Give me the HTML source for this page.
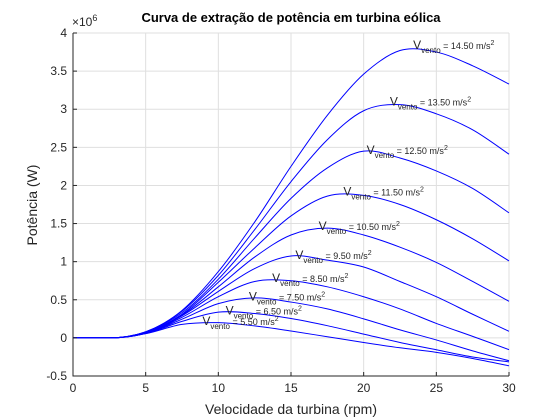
<!DOCTYPE html>
<html><head><meta charset="utf-8"><style>
body{margin:0;background:#fff}
svg{display:block;font-family:"Liberation Sans",Arial,sans-serif}
</style></head><body>
<svg id="chart" width="560" height="420" viewBox="0 0 560 420">
<rect width="560" height="420" fill="#fff"/>
<g id="grid"></g>
<g id="series"></g>
<g id="axes"></g>
<g id="labels"></g>
<text x="291" y="22" text-anchor="middle" font-size="13" font-weight="bold" fill="#000">Curva de extração de potência em turbina eólica</text>
<text x="291" y="414" text-anchor="middle" font-size="14" fill="#262626">Velocidade da turbina (rpm)</text>
<text transform="translate(37,205) rotate(-90)" text-anchor="middle" font-size="14" fill="#262626">Potência (W)</text>
<text x="72" y="26" font-size="12" fill="#262626">×10<tspan dy="-5" font-size="9">6</tspan></text>
</svg>
<script>
const rpm = [0,2.5,5,7.5,10,12.5,15,17.5,20,22.5,25,27.5,30];
const windSpeeds = [14.5,13.5,12.5,11.5,10.5,9.5,8.5,7.5,6.5,5.5];
const p145 = [0,0,0.08,0.36,0.87,1.52,2.25,2.92,3.46,3.77,3.75,3.57,3.33];
const p135 = [0,0,0.08,0.35,0.82,1.42,2.05,2.60,2.98,3.06,2.94,2.73,2.41];
const p125 = [0,0,0.08,0.33,0.77,1.31,1.83,2.23,2.45,2.36,2.19,1.96,1.64];
const p115 = [0,0,0.076,0.31,0.73,1.18,1.60,1.86,1.87,1.75,1.55,1.30,1.01];
const p105 = [0,0,0.07,0.30,0.67,1.06,1.35,1.44,1.35,1.19,0.99,0.74,0.48];
const p95 = [0,0,0.062,0.29,0.61,0.91,1.075,1.02,0.93,0.74,0.54,0.31,0.086];
const p85 = [0,0,0.06,0.27,0.54,0.74,0.75,0.67,0.54,0.38,0.19,0.02,-0.154];
const p75 = [0,0,0.06,0.245,0.45,0.525,0.47,0.38,0.25,0.105,-0.027,-0.17,-0.30];
const p65 = [0,0,0.057,0.217,0.338,0.32,0.254,0.16,0.05,-0.06,-0.155,-0.25,-0.314];
const p55 = [0,0,0.056,0.177,0.20,0.157,0.09,0.015,-0.06,-0.13,-0.19,-0.27,-0.366];
const allSeries = [p145,p135,p125,p115,p105,p95,p85,p75,p65,p55];
const labelRpm = [23.4,21.8,20.2,18.6,16.9,15.3,13.7,12.1,10.5,8.9];
const labelPower = [3.83,3.09,2.45,1.91,1.454,1.077,0.771,0.53,0.345,0.209];
const xTicks = [0,5,10,15,20,25,30];
const yTicks = [-0.5,0,0.5,1,1.5,2,2.5,3,3.5,4];
const yTickLabels = ["-0.5","0","0.5","1","1.5","2","2.5","3","3.5","4"];

const X0=73,X1=509,Y0=376,Y1=33,xMin=0,xMax=30,yMin=-0.5,yMax=4;
function sx(v){return X0+(v-xMin)/(xMax-xMin)*(X1-X0);}
function sy(v){return Y0-(v-yMin)/(yMax-yMin)*(Y0-Y1);}
const NS="http://www.w3.org/2000/svg";
function mk(tag,attrs,parent){const e=document.createElementNS(NS,tag);for(const k in attrs)e.setAttribute(k,attrs[k]);parent.appendChild(e);return e;}
const grid=document.getElementById('grid'),axes=document.getElementById('axes'),ser=document.getElementById('series'),lab=document.getElementById('labels');
xTicks.forEach((t,i)=>{
  const g=mk('line',{x1:sx(t),x2:sx(t),y1:Y1,y2:Y0,stroke:'#dfdfdf','stroke-width':1},grid);
  
  
  const tk=mk('line',{x1:sx(t),x2:sx(t),y1:Y0,y2:Y0-4,stroke:'#262626','stroke-width':1},axes);
  
  
  const tx=mk('text',{x:sx(t),y:Y0+16,'text-anchor':'middle','font-size':12,fill:'#262626'},axes);
  tx.textContent=String(t);
  
  
});
yTicks.forEach((t,i)=>{
  const g=mk('line',{x1:X0,x2:X1,y1:sy(t),y2:sy(t),stroke:'#dfdfdf','stroke-width':1},grid);
  
  
  const tk=mk('line',{x1:X0,x2:X0+4,y1:sy(t),y2:sy(t),stroke:'#262626','stroke-width':1},axes);
  
  
  const tx=mk('text',{x:X0-6,y:sy(t)+4,'text-anchor':'end','font-size':12,fill:'#262626'},axes);
  tx.textContent=yTickLabels[i];
  
  
});
const ax=mk('path',{d:`M${X0},${Y1}V${Y0}H${X1}`,fill:'none',stroke:'#262626','stroke-width':1},axes);



function splinePath(xs,ys){
  const p=xs.map((x,i)=>[sx(x),sy(ys[i])]);
  let d=`M${p[0][0]},${p[0][1]}`;
  for(let i=0;i<p.length-1;i++){
    const p0=p[Math.max(0,i-1)],p1=p[i],p2=p[i+1],p3=p[Math.min(p.length-1,i+2)];
    let c1x=p1[0]+(p2[0]-p0[0])/6,c1y=p1[1]+(p2[1]-p0[1])/6;
    let c2x=p2[0]-(p3[0]-p1[0])/6,c2y=p2[1]-(p3[1]-p1[1])/6;
    if(i<=1){c1y=p1[1];}
    if(i===0){c2y=p2[1];}
    d+=`C${c1x},${c1y} ${c2x},${c2y} ${p2[0]},${p2[1]}`;
  }
  return d;
}
allSeries.forEach((vals,i)=>{
  const path=mk('path',{d:splinePath(rpm,vals),fill:'none',stroke:'#0000ff','stroke-width':1},ser);
  
  
  const t=mk('text',{x:sx(labelRpm[i]),y:sy(labelPower[i])+3,'font-size':9,fill:'#262626'},lab);
  t.innerHTML=`<tspan font-size="12">V</tspan><tspan dy="4" font-size="8">vento</tspan><tspan dy="-4"> = ${windSpeeds[i].toFixed(2)} m/s</tspan><tspan dy="-4" font-size="7">2</tspan>`;
  
  
});
</script>
</body></html>
